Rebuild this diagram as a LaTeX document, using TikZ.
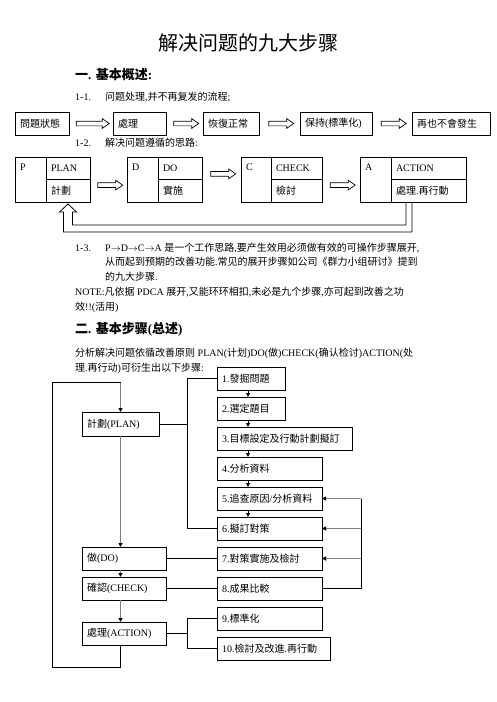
\documentclass[tikz,border=0pt]{standalone}
\usepackage{fontspec}
\setmainfont{Liberation Serif}
\newfontfamily\cjkfont{Noto Sans CJK SC}
\usetikzlibrary{arrows.meta, shapes.arrows, calc, positioning}

% switch to the CJK font for Chinese characters
\XeTeXinterchartokenstate=1
\newXeTeXintercharclass\CJKclass
\newcount\cjkcode
\newcommand\setcjkrange[2]{%
  \cjkcode=#1\relax
  \loop
    \XeTeXcharclass\cjkcode=\CJKclass
    \ifnum\cjkcode<#2\relax \advance\cjkcode by 1
  \repeat}
\setcjkrange{"4E00}{"9FFF}
\setcjkrange{"3000}{"303F}
\XeTeXinterchartoks 0 \CJKclass = {\begingroup\cjkfont}
\XeTeXinterchartoks 4095 \CJKclass = {\begingroup\cjkfont}
\XeTeXinterchartoks \CJKclass 0 = {\endgroup}
\XeTeXinterchartoks \CJKclass 4095 = {\endgroup}

\newcommand\pto{$\rightarrow$}

\begin{document}
\begin{tikzpicture}[x=1pt, y=-1pt, >={Triangle[length=4pt, width=4pt, color=black]},
    box/.style={draw, line width=0.8pt, anchor=north west, outer sep=0pt,
        minimum height=23pt, inner xsep=5pt, inner ysep=0pt, align=left,
        font=\fontsize{10}{12}\selectfont},
    cell/.style={box, minimum height=22.5pt},
    lbl/.style={anchor=north west, inner xsep=5pt, inner ysep=6.5pt,
        font=\fontsize{10}{12}\selectfont},
    fatarrow/.style={draw, line width=0.7pt, single arrow, single arrow head extend=2.5pt,
        single arrow tip angle=70, inner sep=2pt, minimum height=25pt, anchor=center},
    txt/.style={anchor=west, inner sep=0pt, font=\fontsize{10}{12}\selectfont},
    wire/.style={draw, line width=0.8pt},
    flow/.style={->, draw=black!50, line width=1.6pt}]
    \useasboundingbox (0,0) rectangle (496,702);

    % Texts
    \node[txt, anchor=center, font=\fontsize{20}{24}\selectfont] (title) at (248,43) {解决问题的九大步骤};
    \node[txt, font=\bfseries\fontsize{13}{15}\selectfont] (sec1) at (75,75) {一. 基本概述:};
    \node[txt] (n11) at (75,97) {1-1.};
    \node[txt] (t11) at (105,97) {问题处理,并不再复发的流程;};
    \node[txt] (n12) at (75,143) {1-2.};
    \node[txt] (t12) at (105,143) {解决问题遵循的思路:};
    \node[txt] (n13) at (75,248) {1-3.};
    \node[txt] (t13a) at (105,248) {P\pto D\pto C\pto A 是一个工作思路,要产生效用必须做有效的可操作步骤展开,};
    \node[txt] (t13b) at (105,262) {从而起到预期的改善功能.常见的展开步骤如公司《群力小组研讨》提到};
    \node[txt] (t13c) at (105,277) {的九大步骤.};
    \node[txt] (notea) at (75,292) {NOTE:凡依据 PDCA 展开,又能环环相扣,未必是九个步骤,亦可起到改善之功};
    \node[txt] (noteb) at (75,307) {效!!(活用)};
    \node[txt, font=\bfseries\fontsize{13}{15}\selectfont] (sec2) at (75,329) {二. 基本步骤(总述)};
    \node[txt] (t2a) at (75,353) {分析解决问题依循改善原则 PLAN(计划)DO(做)CHECK(确认检讨)ACTION(处};
    \node[txt] (t2b) at (75,368) {理.再行动)可衍生出以下步骤:};

    % Row of states
    \node[box, text width=44pt] (state) at (15,112) {問題狀態};
    \node[box, text width=43pt] (treat) at (113,112) {處理};
    \node[box, text width=46pt] (normal) at (203,112) {恢復正常};
    \node[box, text width=62pt] (keep) at (300,112) {保持(標準化)};
    \node[box, text width=68pt] (never) at (412,112) {再也不會發生};

    \node[fatarrow, minimum height=33pt] (a1) at ($(state.east)!.5!(treat.west)$) {};
    \node[fatarrow] (a2) at ($(treat.east)!.5!(normal.west)$) {};
    \node[fatarrow] (a3) at ($(normal.east)!.5!(keep.west)$) {};
    \node[fatarrow] (a4) at ($(keep.east)!.5!(never.west)$) {};

    % PDCA boxes
    \node[box, minimum height=45pt, text width=21pt, label={[lbl]north west:P}] (p) at (15,157) {};
    \node[cell, text width=34pt] (pname) at (p.north east) {PLAN};
    \node[cell, text width=34pt] (pcn) at (pname.south west) {計劃};

    \node[box, minimum height=45pt, text width=21pt, label={[lbl]north west:D}] (d) at (127,157) {};
    \node[cell, text width=34pt] (dname) at (d.north east) {DO};
    \node[cell, text width=34pt] (dcn) at (dname.south west) {實施};

    \node[box, minimum height=45pt, text width=20pt, label={[lbl]north west:C}] (c) at (241,157) {};
    \node[cell, text width=41pt] (cname) at (c.north east) {CHECK};
    \node[cell, text width=41pt] (ccn) at (cname.south west) {檢討};

    \node[box, minimum height=45pt, text width=21pt, label={[lbl]north west:A}] (a) at (360,157) {};
    \node[cell, text width=65pt] (aname) at (a.north east) {ACTION};
    \node[cell, text width=65pt] (acn) at (aname.south west) {處理.再行動};

    \node[fatarrow] (pd) at ($(pcn.east)!.5!(d.west)$) {};
    \node[fatarrow] (dc) at ($(dname.east)!.5!(c.west)$) {};
    \node[fatarrow] (ca) at ($(ccn.east)!.5!(a.west)$) {};

    % hollow arrow back to PLAN
    \coordinate (lin) at ([xshift=15pt]acn.south west);
    \coordinate (lout) at ([xshift=21pt]acn.south west);
    \draw[wire] (lout) |- ([xshift=-4.5pt, yshift=-30pt]pcn.south)
        -- ([xshift=-4.5pt, yshift=-10pt]pcn.south) -- ++(-4,0)
        -- ([yshift=-2pt]pcn.south)
        -- ([xshift=8.5pt, yshift=-10pt]pcn.south) -- ++(-4,0)
        |- ([yshift=-23pt]lin) -- (lin);

    % Steps
    \node[box, text width=67pt, minimum height=24pt] (plan) at (82,412) {計劃(PLAN)};
    \node[box, text width=74pt] (do) at (82,547) {做(DO)};
    \node[box, text width=74pt] (check) at (82,577) {確認(CHECK)};
    \node[box, text width=74pt] (act) at (82,622) {處理(ACTION)};

    \node[box, text width=58pt] (st1) at (217,367) {1.發掘問題};
    \node[box, text width=58pt] (st2) at (217,397) {2.選定題目};
    \node[box, text width=125pt] (st3) at (217,427) {3.目標設定及行動計劃擬訂};
    \node[box, text width=95pt] (st4) at (217,457) {4.分析資料};
    \node[box, text width=95pt] (st5) at (217,487) {5.追查原因/分析資料};
    \node[box, text width=95pt] (st6) at (217,517) {6.擬訂對策};
    \node[box, text width=95pt] (st7) at (217,547) {7.對策實施及檢討};
    \node[box, text width=95pt] (st8) at (217,577) {8.成果比較};
    \node[box, text width=95pt] (st9) at (217,607) {9.標準化};
    \node[box, text width=103pt] (st10) at (217,637) {10.檢討及改進.再行動};

    % Edges
    \draw[wire, ->] ([xshift=31pt]st1.south west) -- ([xshift=31pt]st2.north west);
    \draw[wire, ->] ([xshift=31pt]st2.south west) -- ([xshift=31pt]st3.north west);
    \draw[wire, ->] ([xshift=31pt]st3.south west) -- ([xshift=31pt]st4.north west);
    \draw[wire, ->] ([xshift=31pt]st4.south west) -- ([xshift=31pt]st5.north west);
    \draw[wire, ->] ([xshift=31pt]st5.south west) -- ([xshift=31pt]st6.north west);

    \coordinate (looptop) at ([yshift=30pt]plan.north);
    \coordinate (loopbot) at ([xshift=-30pt, yshift=-22pt]act.south west);
    \draw[flow] (looptop) -- (plan.north);
    \draw[flow] (plan.south) -- (plan.south |- do.north);
    \draw[flow] (plan.south |- do.south) -- (plan.south |- check.north);
    \draw[flow] (plan.south |- check.south) -- (plan.south |- act.north);
    \draw[wire] (plan.south |- act.south) |- (loopbot) |- (looptop);

    \coordinate (br1) at ([xshift=-30pt]st1.west);
    \draw[wire] (st1.west) -- (br1) |- (st6.west);
    \draw[wire] (plan.east) -- (plan.east -| br1);
    \draw[wire] (do.east) -- (st7.west);
    \draw[wire] (check.east) -- (st8.west);
    \coordinate (br2) at ([xshift=-30pt]st9.west);
    \draw[wire] (st9.west) -- (br2) |- (st10.west);
    \draw[wire] (act.east) -- (act.east -| br2);

    \coordinate (fb) at ([xshift=39pt]st8.east);
    \draw[wire] (st8.east) -- (fb) -- (fb |- st5.east);
    \draw[flow] (fb |- st5.east) -- (st5.east);
    \draw[flow] (fb |- st6.east) -- (st6.east);
    \draw[flow] (fb |- st7.east) -- (st7.east);
\end{tikzpicture}
\end{document}
